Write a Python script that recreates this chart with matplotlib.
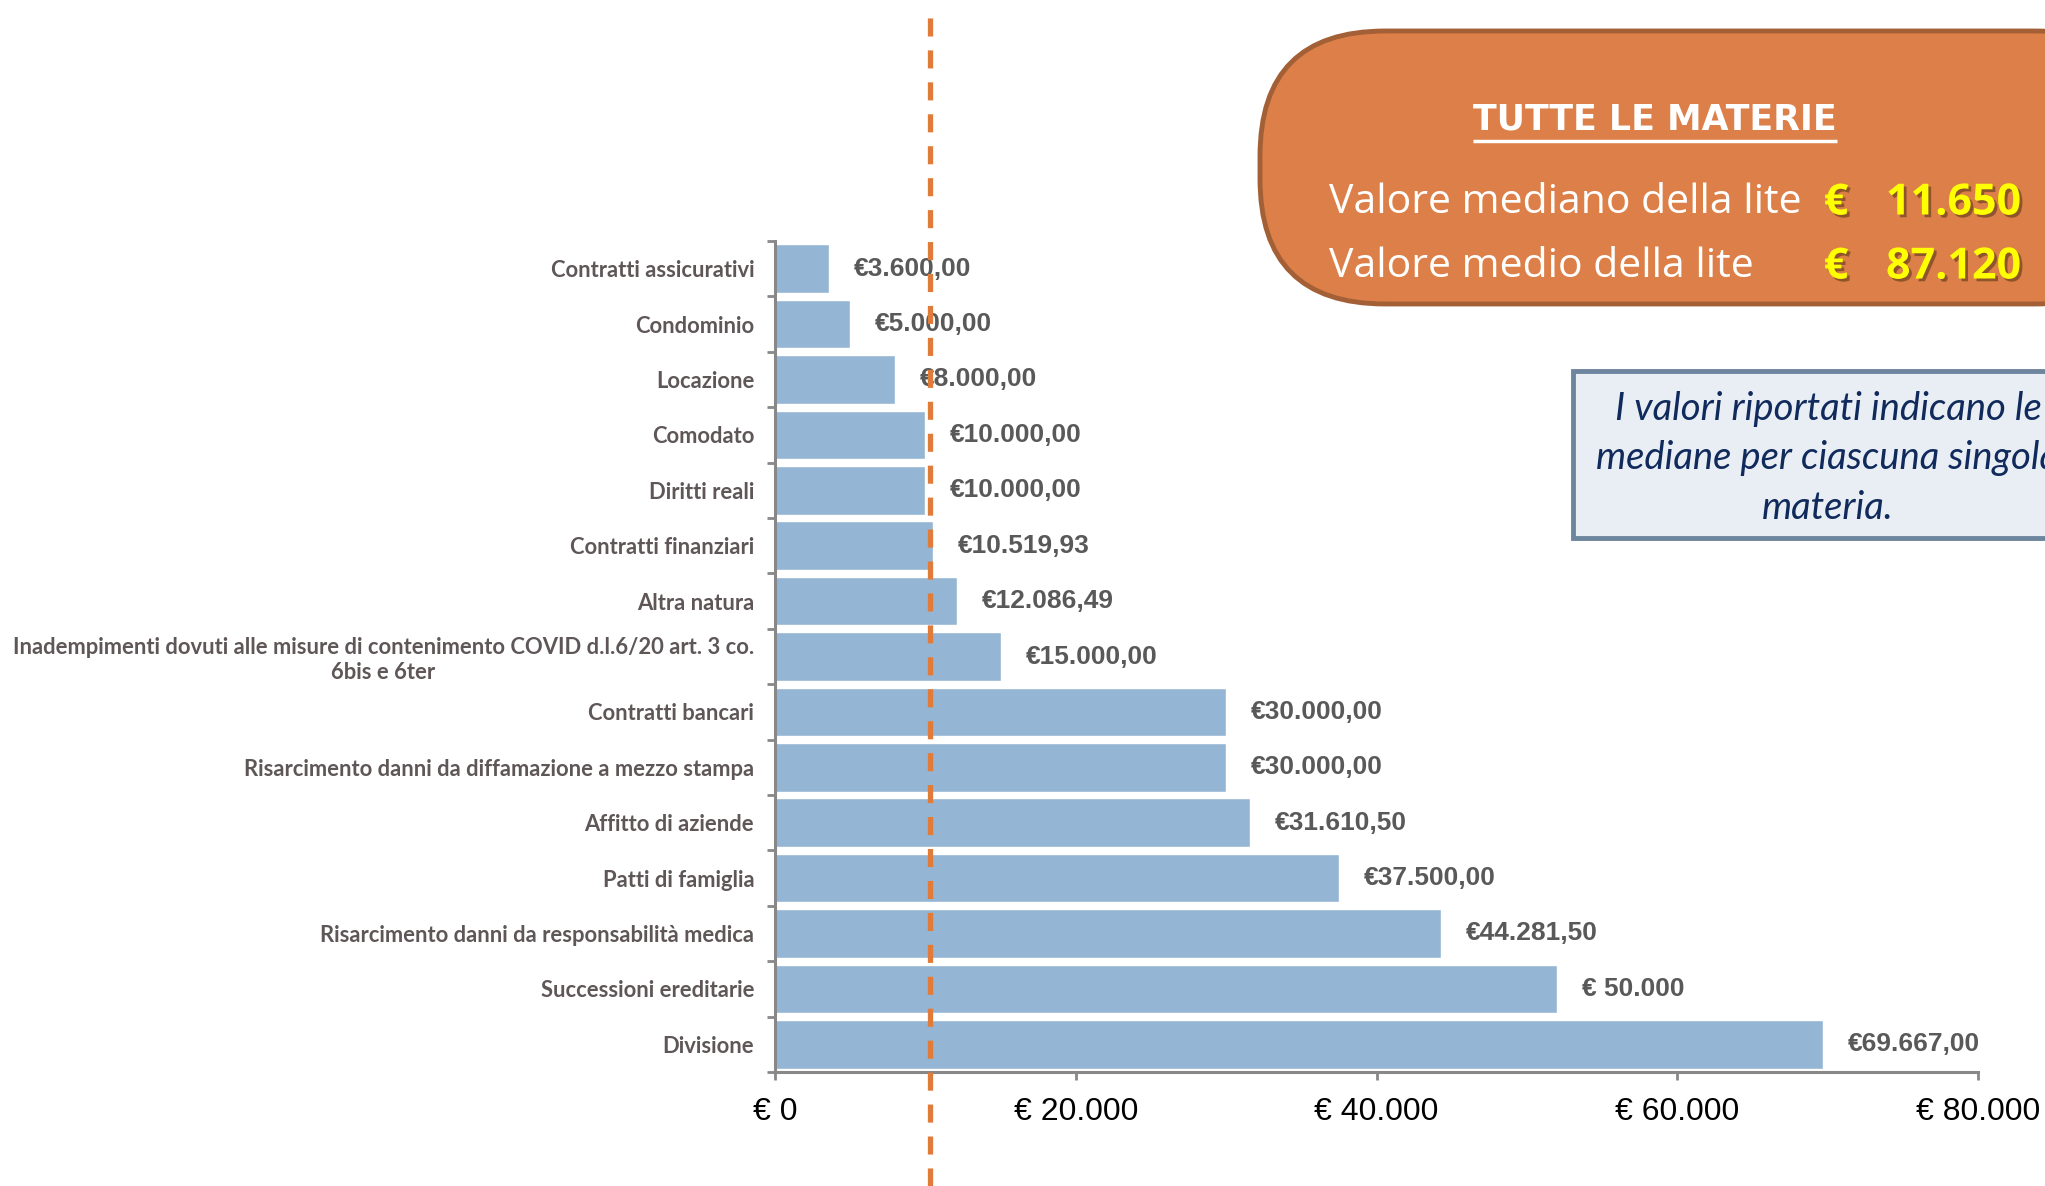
import matplotlib
matplotlib.use("Agg")
import matplotlib.pyplot as plt
import matplotlib.patheffects as pe
from matplotlib.patches import FancyBboxPatch
from matplotlib.ticker import FuncFormatter, FixedLocator
import numpy as np

# --- data -------------------------------------------------------------------
categories = [
    "Contratti assicurativi",
    "Condominio",
    "Locazione",
    "Comodato",
    "Diritti reali",
    "Contratti finanziari",
    "Altra natura",
    "Inadempimenti dovuti alle misure di contenimento COVID d.l.6/20 art. 3 co.\n6bis e 6ter",
    "Contratti bancari",
    "Risarcimento danni da diffamazione a mezzo stampa",
    "Affitto di aziende",
    "Patti di famiglia",
    "Risarcimento danni da responsabilità medica",
    "Successioni ereditarie",
    "Divisione",
]
medians = [3600, 5000, 8000, 10000, 10000, 10519.93, 12086.49, 15000,
           30000, 30000, 31610.50, 37500, 44281.50, 52000, 69667]
value_labels = ["€3.600,00", "€5.000,00", "€8.000,00", "€10.000,00", "€10.000,00",
                "€10.519,93", "€12.086,49", "€15.000,00", "€30.000,00", "€30.000,00",
                "€31.610,50", "€37.500,00", "€44.281,50", "€ 50.000", "€69.667,00"]
x_ticks = [0, 20000, 40000, 60000, 80000]
median_line = 10300  # where the dashed reference line sits in the picture
box_title = "TUTTE LE MATERIE"
box_rows = ["Valore mediano della lite", "Valore medio della lite"]
box_values = ["11.650", "87.120"]
note_lines = ["I valori riportati indicano le", "mediane per ciascuna singola", "materia."]

W, H = 2045, 1186
plt.rcParams["lines.scale_dashes"] = False

fig = plt.figure(figsize=(W / 100, H / 100), dpi=100)
fig.patch.set_facecolor("white")

# main bar chart
ax = fig.add_axes([775 / W, 1 - 1072 / H, (1978 - 775) / W, (1072 - 241) / H])
y = np.arange(len(categories))
ax.barh(y, medians, height=0.88, color="#95b5d4", edgecolor="white", linewidth=1)
ax.set_xlim(0, 80000)
ax.set_ylim(len(categories) - 0.5, -0.5)

for yi, v, lab in zip(y, medians, value_labels):
    ax.annotate(lab, (v, yi), xytext=(18, 0), textcoords="offset points",
                ha="left", va="center", fontsize=19, fontweight="bold",
                family="Liberation Sans", color="#595959")

ax.set_yticks(y)
ax.set_yticklabels(categories, fontsize=15.8, fontweight="bold", family="Lato",
                   color="#5f5757")
for t in ax.get_yticklabels():
    t.set_multialignment("center")
ax.yaxis.set_minor_locator(FixedLocator(np.arange(len(categories) + 1) - 0.5))
ax.tick_params(axis="y", which="major", length=0, pad=15)
ax.tick_params(axis="y", which="minor", length=6, width=2, color="#888888")

ax.set_xticks(x_ticks)
ax.xaxis.set_major_formatter(FuncFormatter(lambda v, p: "€ " + f"{int(v):,}".replace(",", ".")))
ax.tick_params(axis="x", length=6, width=2, color="#888888", pad=12, labelsize=23)
for t in ax.get_xticklabels():
    t.set_family("Liberation Sans")

for s in ["top", "right"]:
    ax.spines[s].set_visible(False)
for s in ["left", "bottom"]:
    ax.spines[s].set_color("#888888")
    ax.spines[s].set_linewidth(2.2)

ax.axvline(median_line, ymin=-0.137, ymax=1.274, clip_on=False, color="#e07b39",
           lw=3.8, dashes=(13, 10), zorder=5)

# overlay in pixel coordinates for the annotation boxes
ov = fig.add_axes([0, 0, 1, 1])
ov.set_xlim(0, W)
ov.set_ylim(H, 0)
ov.axis("off")
ov.patch.set_visible(False)

orange = FancyBboxPatch((1260, 31), 900, 273, boxstyle="round,pad=0,rounding_size=125",
                        fc="#dd7f48", ec="#a35f35", lw=3.5, clip_on=False)
ov.add_patch(orange)

title = ov.text(1655, 120, box_title, ha="center", va="center", fontsize=25,
                fontweight="bold", family="DejaVu Sans Condensed", color="white")
fig.canvas.draw()
bb = title.get_window_extent().transformed(ov.transData.inverted())
ov.plot([bb.x0, bb.x1], [bb.y0 + 4, bb.y0 + 4], color="white", lw=2.5,
        solid_capstyle="butt")

yellow_fx = [pe.withSimplePatchShadow(offset=(2, -2), shadow_rgbFace="#5a3a1a", alpha=0.6)]
for row_y, row_text, row_val in zip([203, 267], box_rows, box_values):
    ov.text(1329, row_y, row_text, ha="left", va="center", fontsize=29.5,
            family="Open Sans", color="white")
    ov.text(1836, row_y, "€", ha="center", va="center", fontsize=31,
            fontweight="bold", family="Open Sans", color="#ffff00", path_effects=yellow_fx)
    ov.text(2021, row_y, row_val, ha="right", va="center", fontsize=31,
            fontweight="bold", family="Open Sans", color="#ffff00", path_effects=yellow_fx)

note = FancyBboxPatch((1573, 371), 600, 167, boxstyle="square,pad=0",
                      fc="#e9eef5", ec="#6e859e", lw=3.5, clip_on=False,
                      path_effects=[pe.withSimplePatchShadow(offset=(2, -2),
                                                             shadow_rgbFace="#bbbbbb",
                                                             alpha=0.5)])
ov.add_patch(note)
for ly, line in zip([409, 458, 508], note_lines):
    ov.text(1828, ly, line, ha="center", va="center", fontsize=27.5, style="italic",
            family="Lato", color="#102a5c")

fig.savefig("out.png", dpi=100)
